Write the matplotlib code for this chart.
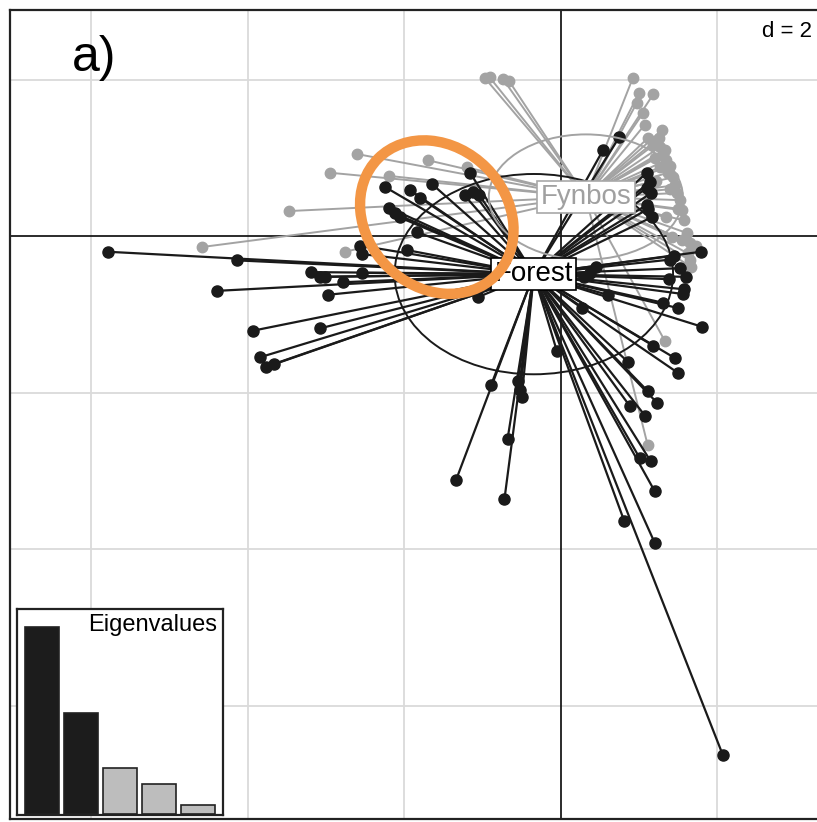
import matplotlib
matplotlib.use("Agg")
import matplotlib.pyplot as plt
from matplotlib.patches import Ellipse
import numpy as np

plt.rcParams['font.family'] = ['Liberation Sans', 'DejaVu Sans']

# group centroids (discriminant space)
forest_center = (-0.345, -0.486)
fynbos_center = (0.32, 0.50)

# individual scores
forest_x = [-5.79, -4.14, -4.40, -3.19, -3.08, -3.02, -2.79, -2.54, -2.98, -3.94,
            -3.08, -3.85, -3.77, -3.67, -2.57, -2.54, -2.25, -1.93, -1.64, -1.16,
            -1.80, -2.19, -2.12, -2.06, -1.23, -1.12, -1.04, -1.84, -1.96, -0.89,
            -0.50, -0.52, -0.68, -1.34, -0.72, -0.05, 0.86, 0.88, 1.11, 1.23,
            1.01, 1.15, 1.20, 0.81, 1.20, 2.07, 1.46, 1.50, 1.81, 1.50,
            1.58, 1.56, 1.38, 1.52, 1.79, 0.75, 0.54, 1.10, 1.15, 1.10,
            1.16, 0.27, -1.06, 0.37, 1.14, 1.40, 1.30, 0.60, -0.55, 1.45,
            1.60, 1.10, 1.12, 1.18, 1.08, 0.45, 0.30]
forest_y = [-0.20, -0.31, -0.70, -0.46, -0.52, -0.52, -0.59, -0.47, -0.75, -1.21,
            -1.18, -1.55, -1.67, -1.64, -0.12, -0.23, 0.63, 0.59, 0.66, 0.81,
            0.49, 0.36, 0.29, 0.24, 0.52, 0.56, 0.52, 0.05, -0.18, -1.90,
            -2.06, -1.97, -2.59, -3.12, -3.36, -1.47, -1.61, -2.17, -1.98, -2.13,
            -2.84, -2.88, -3.26, -3.64, -3.92, -6.63, -1.56, -1.75, -1.16, -0.92,
            -0.68, -0.74, -0.55, -0.41, -0.20, 1.27, 1.10, 0.81, 0.55, 0.40,
            0.24, -0.92, -0.78, -0.47, 0.69, -0.30, -0.85, -0.75, -1.85, -0.25,
            -0.52, 0.62, 0.35, -1.40, -2.30, -0.40, -0.52]

fynbos_x = [-0.97, -0.91, -0.74, -0.66, 0.92, 1.00, 1.18, 0.97, 1.05, 1.07,
            1.11, 1.18, 1.27, 1.30, 1.35, 1.37, 1.43, 1.27, 1.48, 1.52,
            1.61, 1.65, 1.65, 1.42, 1.35, 1.73, 1.67, 1.33, 1.11, -2.61,
            -2.95, -3.48, -4.59, -1.70, -2.20, -2.76, -1.20, 1.55, 1.46, 1.29,
            1.20, 1.40, 1.50, 1.58, 1.62, 1.25, 1.40, 1.55, 1.33, 1.22]
fynbos_y = [2.02, 2.03, 2.01, 1.98, 2.02, 1.83, 1.81, 1.70, 1.57, 1.42,
            1.25, 1.16, 1.14, 1.04, 0.97, 0.81, 0.75, 0.88, 0.55, 0.46,
            0.04, -0.09, -0.31, -0.01, 0.24, -0.13, -0.40, -1.34, -2.67, 1.05,
            0.81, 0.32, -0.14, 0.97, 0.77, -0.20, 0.88, 0.33, 0.65, 1.35,
            1.00, 0.90, 0.35, 0.20, -0.22, 1.25, 0.60, -0.05, 1.10, 0.70]

# ellipse half-axes (x, y)
forest_ell = (1.78, 1.28)
fynbos_ell = (1.24, 0.80)

eigenvalues = [18.7, 10.1, 4.6, 3.0, 0.9]
eig_colors = ['#1c1c1c', '#1c1c1c', '#bdbdbd', '#bdbdbd', '#bdbdbd']

black = '#1a1a1a'
grey = '#a3a3a3'

fig = plt.figure(figsize=(8.17, 8.22), dpi=100)
ax = fig.add_axes([10 / 817, 3 / 822, 809 / 817, 809 / 822])
ax.set_xlim(-7.04, 3.30)
ax.set_ylim(-7.45, 2.89)
ax.set_xticks([])
ax.set_yticks([])
for s in ax.spines.values():
    s.set_linewidth(1.6)
    s.set_color('#222222')

for g in [-6, -4, -2, 2]:
    ax.axvline(g, color='#dadada', lw=1.3, zorder=0)
    ax.axhline(g, color='#dadada', lw=1.3, zorder=0)
ax.axvline(0, color=black, lw=1.3, zorder=1)
ax.axhline(0, color=black, lw=1.3, zorder=1)

# stars: fynbos first, forest on top
cx, cy = fynbos_center
for x, y in zip(fynbos_x, fynbos_y):
    ax.plot([cx, x], [cy, y], color=grey, lw=1.4, zorder=2)
ax.plot(fynbos_x, fynbos_y, 'o', color=grey, ms=7.5, mec=grey, zorder=3)

cx, cy = forest_center
for x, y in zip(forest_x, forest_y):
    ax.plot([cx, x], [cy, y], color=black, lw=1.6, zorder=4)
ax.plot(forest_x, forest_y, 'o', color=black, ms=8, mec=black, zorder=5)

for (ex, ey), (w, h), col in [(fynbos_center, fynbos_ell, grey),
                              (forest_center, forest_ell, black)]:
    ax.add_patch(Ellipse((ex, ey), 2 * w, 2 * h, fill=False, ec=col, lw=1.4, zorder=6))

ax.text(fynbos_center[0], fynbos_center[1], 'Fynbos', fontsize=20, color='#a0a0a0',
        ha='center', va='center', zorder=7,
        bbox=dict(boxstyle='square,pad=0.12', fc='white', ec='#a8a8a8', lw=1.2))
ax.text(forest_center[0], forest_center[1], 'Forest', fontsize=20, color='black',
        ha='center', va='center', zorder=7,
        bbox=dict(boxstyle='square,pad=0.12', fc='white', ec='black', lw=1.2))

# orange highlight ring
ax.add_patch(Ellipse((-1.585, 0.243), 2.12, 1.79, angle=-45, fill=False,
                     ec='#f39645', lw=7.5, zorder=10))

fig.text(72 / 817, 1 - 71 / 822, 'a)', fontsize=36, ha='left', va='baseline')
fig.text(812 / 817, 1 - 37 / 822, 'd = 2', fontsize=16, ha='right', va='baseline')

# eigenvalue inset
ax2 = fig.add_axes([17 / 817, 7 / 822, 206 / 817, 206 / 822])
ax2.bar(range(len(eigenvalues)), eigenvalues, width=0.87, color=eig_colors,
        edgecolor='#222222', lw=1.2)
ax2.set_xlim(-0.64, 4.64)
ax2.set_ylim(-0.1, 20.5)
ax2.set_xticks([])
ax2.set_yticks([])
for s in ax2.spines.values():
    s.set_linewidth(1.6)
    s.set_color('#222222')
ax2.text(0.97, 0.975, 'Eigenvalues', transform=ax2.transAxes, fontsize=17,
         ha='right', va='top')

fig.savefig('out.png', dpi=100)
